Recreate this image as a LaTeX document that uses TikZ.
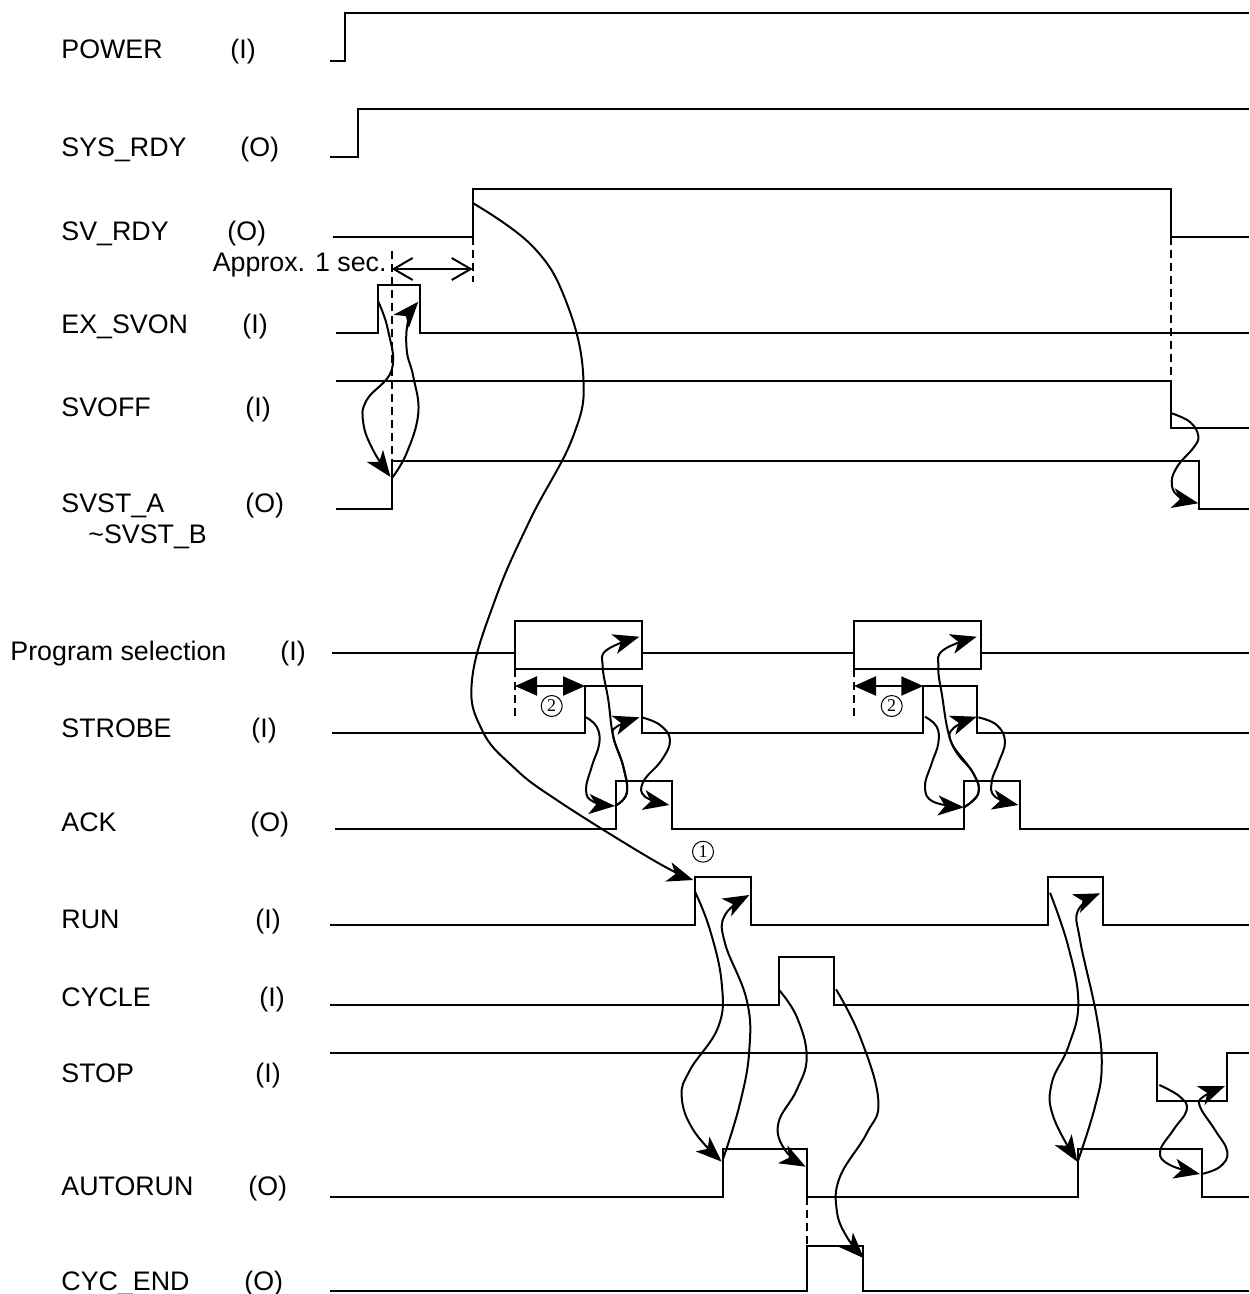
\documentclass[tikz,border=0pt]{standalone}
\usepackage{fontspec}
\setmainfont{Liberation Sans}
\newfontfamily\numfont{Liberation Serif}
\usetikzlibrary{arrows.meta}
\begin{document}
\begin{tikzpicture}[x=0.5pt,y=-0.5pt,
  sig/.style={line width=1pt},
  dsh/.style={line width=1pt, dash pattern=on 4pt off 2.5pt},
  arr/.style={line width=1pt,-{Stealth[length=13pt,width=10pt,inset=3.5pt]}},
  crv/.style={arr, smooth, tension=0.7},
  lbl/.style={anchor=base west, inner sep=0pt, font=\fontsize{13.4}{16}\selectfont},
  num/.style={circle, draw, line width=0.5pt, minimum size=10.5pt, inner sep=0pt, font=\numfont\fontsize{9}{10}\selectfont},
  wide/.style={line width=1pt,{Straight Barb[length=9.5pt,width=11pt]}-{Straight Barb[length=9.5pt,width=11pt]}},
  fat/.style={line width=1pt,{Triangle[length=11pt,width=9.5pt]}-{Triangle[length=11pt,width=9.5pt]}}]
\useasboundingbox (0,0) rectangle (1249,1294);

% labels
\node[lbl] (nPOWER) at (61,59) {POWER};      \node[lbl] (iPOWER) at (230,59) {(I)};
\node[lbl] (nSYS) at (61,156.7) {SYS\_RDY};   \node[lbl] (iSYS) at (240,156.7) {(O)};
\node[lbl] (nSV) at (61,241) {SV\_RDY};       \node[lbl] (iSV) at (227,241) {(O)};
\node[lbl] (nEX) at (61,333.3) {EX\_SVON};    \node[lbl] (iEX) at (242,333.3) {(I)};
\node[lbl] (nOFF) at (61,416.7) {SVOFF};      \node[lbl] (iOFF) at (245,416.7) {(I)};
\node[lbl] (nST) at (61,512.7) {SVST\_A};     \node[lbl] (iST) at (245,512.7) {(O)};
\node[lbl] (nSTB) at (88,543) {\textasciitilde SVST\_B};
\node[lbl] (nPS) at (10,660) {Program selection}; \node[lbl] (iPS) at (280,660) {(I)};
\node[lbl] (nSTR) at (61,737) {STROBE};       \node[lbl] (iSTR) at (251,737) {(I)};
\node[lbl] (nACK) at (61,831.7) {ACK};        \node[lbl] (iACK) at (250,831.7) {(O)};
\node[lbl] (nRUN) at (61,928.3) {RUN};        \node[lbl] (iRUN) at (255,928.3) {(I)};
\node[lbl] (nCYC) at (61,1006.7) {CYCLE};     \node[lbl] (iCYC) at (259,1006.7) {(I)};
\node[lbl] (nSTOP) at (61,1082) {STOP};       \node[lbl] (iSTOP) at (255,1082) {(I)};
\node[lbl] (nAUTO) at (61,1195) {AUTORUN};    \node[lbl] (iAUTO) at (248,1195) {(O)};
\node[lbl] (nCE) at (61,1290) {CYC\_END};     \node[lbl] (iCE) at (244,1290) {(O)};
\node[lbl,anchor=base east] (approx) at (387,271.5) {Approx. 1 sec.};

% waveforms
\draw[sig] (330,61) -- (344.7,61) -- (344.7,13) -- (1249,13);
\draw[sig] (330,156.7) -- (358.3,156.7) -- (358.3,109) -- (1249,109);
\draw[sig] (332.7,236.7) -- (472.7,236.7) -- (472.7,189) -- (1170.7,189) -- (1170.7,236.7) -- (1249,236.7);
\draw[sig] (335.7,332.7) -- (378.3,332.7) -- (378.3,285) -- (420,285) -- (420,332.7) -- (1249,332.7);
\draw[sig] (335.7,380.7) -- (1170.7,380.7) -- (1170.7,428.3) -- (1249,428.3);
\draw[sig] (335.7,509) -- (391.7,509) -- (391.7,461) -- (1199,461) -- (1199,509) -- (1249,509);
\draw[dsh] (391.7,251) -- (391.7,461);
\draw[dsh] (472.7,236.7) -- (472.7,281.7);
\draw[dsh] (1170.7,236.7) -- (1170.7,380.7);
\draw[wide] (391.7,269) -- (472.7,269);

% program selection
\draw[sig] (332,652.7) -- (515,652.7);
\draw[sig] (515,621) rectangle (641.7,669);
\draw[sig] (641.7,652.7) -- (854,652.7);
\draw[sig] (854,621) rectangle (980.7,669);
\draw[sig] (980.7,652.7) -- (1249,652.7);
\draw[dsh] (515,669) -- (515,717.3);
\draw[dsh] (854,669) -- (854,717.3);
\draw[fat] (515,686) -- (585,686);
\draw[fat] (854,686) -- (923.3,686);
\node[num] (two1) at (551.7,706) {2};
\node[num] (two2) at (891.7,706) {2};

% strobe, ack
\draw[sig] (332,732.7) -- (585,732.7) -- (585,686) -- (641.7,686) -- (641.7,732.7) -- (923.3,732.7) -- (923.3,686) -- (977.3,686) -- (977.3,732.7) -- (1249,732.7);
\draw[sig] (335,829.3) -- (616,829.3) -- (616,781) -- (672.3,781) -- (672.3,829.3) -- (964,829.3) -- (964,781) -- (1020,781) -- (1020,829.3) -- (1249,829.3);

% run, cycle, stop, autorun, cyc_end
\draw[sig] (330,925) -- (695,925) -- (695,876.7) -- (750.7,876.7) -- (750.7,925) -- (1047.7,925) -- (1047.7,876.7) -- (1103.3,876.7) -- (1103.3,925) -- (1249,925);
\draw[sig] (330,1005) -- (779,1005) -- (779,957.3) -- (834.3,957.3) -- (834.3,1005) -- (1249,1005);
\draw[sig] (330,1052.7) -- (1156.7,1052.7) -- (1156.7,1100.7) -- (1226.7,1100.7) -- (1226.7,1052.7) -- (1249,1052.7);
\draw[sig] (330,1197.3) -- (722.7,1197.3) -- (722.7,1149) -- (806.7,1149) -- (806.7,1197.3) -- (1078.3,1197.3) -- (1078.3,1149) -- (1201.7,1149) -- (1201.7,1197.3) -- (1249,1197.3);
\draw[sig] (330,1291) -- (806.7,1291) -- (806.7,1245.7) -- (862.7,1245.7) -- (862.7,1291) -- (1249,1291);
\draw[dsh] (806.7,1197.3) -- (806.7,1245.7);
\node[num] (one) at (703,851.7) {1};

% named connector ends
\coordinate (exUp) at (378.3,301.7);
\coordinate (exDn) at (418.3,301.7);
\coordinate (stUp) at (390.5,477);
\coordinate (svUp) at (472.7,203);
\coordinate (runUp) at (693.3,880);
\coordinate (offDn) at (1171.7,413.3);
\coordinate (stDn) at (1198.3,503.3);

% causality curves, top
\draw[crv] plot coordinates {(exUp) (388,330) (391.7,370) (366.7,400) (363.3,423) (373,450) (stUp)};
\draw[crv] plot coordinates {(392,478) (406.7,453) (418.3,413) (413.3,376.7) (406.7,350) (408.3,320) (exDn)};
\draw[crv] plot coordinates {(svUp) (533,246.7) (566.7,303) (583.3,376.7) (573,436.7) (530,520) (495,600) (472,680) (482,730) (513,766.7) (556.7,800) (653,860) (runUp)};
\draw[crv] plot coordinates {(offDn) (1190,422) (1198.3,436) (1193.3,448) (1178.3,465) (1171.7,481.7) (1178,496) (stDn)};

% strobe/ack curves
\draw[crv] plot coordinates {(586,717.3) (596.7,726.7) (599.3,743.3) (591.7,766.7) (586,790) (593.3,801.7) (615,806)};
\draw[crv] plot coordinates {(615,806) (626.7,793.3) (623.3,766.7) (613.3,736.7) (616.7,726.7) (639.3,717.3)};
\draw[crv] plot coordinates {(615,806) (626.7,793.3) (623.3,766.7) (613.3,736.7) (608.3,700) (602.7,666.7) (606.7,650) (639.3,636.7)};
\draw[crv] plot coordinates {(641.7,717.3) (660,725) (670,740) (661.7,760) (643.3,781.7) (645,796.7) (669.3,805)};
\draw[crv] plot coordinates {(925,716.7) (936.7,726.7) (938.3,743.3) (931.7,763.3) (925,786.7) (933.3,801.7) (964,807.3)};
\draw[crv] plot coordinates {(964,807.3) (978.3,793.3) (973.3,773.3) (951.7,743.3) (953.3,728.3) (976.7,716.7)};
\draw[crv] plot coordinates {(964,807.3) (978.3,793.3) (973.3,773.3) (951.7,743.3) (941.7,693.3) (938.3,666.7) (943.3,650) (976.7,636.7)};
\draw[crv] plot coordinates {(978.3,717.3) (996.7,725) (1005,741.7) (998.3,763.3) (991.7,781.7) (995,796.7) (1018.3,805)};

% run/autorun curves
\draw[crv] plot coordinates {(695,891.7) (710,930) (721.7,983.3) (718.3,1026.7) (690,1070) (681.7,1096.7) (693.3,1130) (721.7,1161.7)};
\draw[crv] plot coordinates {(723.3,1158.3) (740,1103.3) (749.3,1050) (746.7,1000) (725,943.3) (725,915) (749.3,895)};
\draw[crv] plot coordinates {(779,990) (796.7,1016.7) (806.7,1056.7) (796.7,1090) (778.3,1123.3) (785,1150) (805.7,1166.7)};
\draw[crv] plot coordinates {(836,989.3) (860,1036.7) (878.3,1100) (866.7,1133.3) (840,1176.7) (836.7,1210) (846.7,1236.7) (864,1258.3)};
\draw[crv] plot coordinates {(1050,892.7) (1068.3,946.7) (1078.3,1003.3) (1068.3,1046.7) (1051.7,1083.3) (1053.3,1116.7) (1077.3,1161.7)};
\draw[crv] plot coordinates {(1078.3,1160) (1095,1106.7) (1101.7,1066.7) (1096.7,1016.7) (1080,940) (1078.3,910) (1100,893.3)};
\draw[crv] plot coordinates {(1159.3,1085) (1180,1096.7) (1186.7,1110) (1173.3,1130) (1160,1151.7) (1170,1165) (1200,1174)};
\draw[crv] plot coordinates {(1201.7,1174) (1220,1166.7) (1227.3,1151.7) (1215,1130) (1200,1106.7) (1203.3,1096.7) (1225,1086)};
\end{tikzpicture}
\end{document}
